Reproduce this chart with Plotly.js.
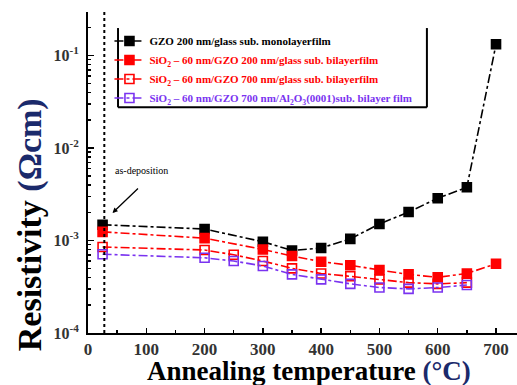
<!DOCTYPE html>
<html><head><meta charset="utf-8">
<script src="https://cdn.plot.ly/plotly-3.0.1.min.js"></script>
<style>html,body{margin:0;padding:0;background:#fff}#chart{width:517px;height:385px}</style>
</head><body><div id="chart"></div>
<script>
// Data (annealing temperature in °C, resistivity in Ω·cm)
const tempMono = [25, 200, 300, 350, 400, 450, 500, 550, 600, 650, 700];
const rhoMono = [1.48e-3, 1.33e-3, 9.7e-4, 7.8e-4, 8.3e-4, 1.04e-3, 1.51e-3, 2.03e-3, 2.86e-3, 3.76e-3, 0.132];

const tempBi200 = [25, 200, 300, 350, 400, 450, 500, 550, 600, 650, 700];
const rhoBi200 = [1.24e-3, 1.06e-3, 8.0e-4, 6.8e-4, 5.9e-4, 5.4e-4, 4.8e-4, 4.3e-4, 4.0e-4, 4.4e-4, 5.6e-4];

const tempBi700 = [25, 200, 250, 300, 350, 400, 450, 500, 550, 600, 650];
const rhoBi700 = [8.5e-4, 7.9e-4, 7.0e-4, 6.0e-4, 5.0e-4, 4.4e-4, 4.1e-4, 3.8e-4, 3.5e-4, 3.4e-4, 3.5e-4];

const tempBiAl = [25, 200, 250, 300, 350, 400, 450, 500, 550, 600, 650];
const rhoBiAl = [7.1e-4, 6.5e-4, 6.0e-4, 5.3e-4, 4.3e-4, 3.8e-4, 3.4e-4, 3.1e-4, 3.0e-4, 3.1e-4, 3.3e-4];

const seriesNames = [
  'GZO 200 nm/glass sub. monolayerfilm',
  'SiO<sub>2</sub> \u2013 60 nm/GZO 200 nm/glass sub. bilayerfilm',
  'SiO<sub>2</sub> \u2013 60 nm/GZO 700 nm/glass sub. bilayerfilm',
  'SiO<sub>2</sub> \u2013 60 nm/GZO 700 nm/Al<sub>2</sub>O<sub>3</sub>(0001)sub. bilayer film'
];
const seriesColors = ['#000000', '#ff0000', '#ff0000', '#7a33f0'];
const yTickVals = [1e-4, 1e-3, 1e-2, 1e-1];
const yTickText = ['10<sup>-4</sup>', '10<sup>-3</sup>', '10<sup>-2</sup>', '10<sup>-1</sup>'];
const xTickVals = [0, 100, 200, 300, 400, 500, 600, 700];
const asDepTemp = 28;

const minorY = [];
[1e-4, 1e-3, 1e-2, 1e-1].forEach(d => { for (let k = 2; k <= 9; k++) { if (d*k < 0.3) minorY.push(d*k); } });

const F = 'Liberation Serif, Times New Roman, serif';
function tr(x, y, i, symbol) {
  return {
    x: x, y: y, type: 'scatter', mode: 'lines+markers',
    name: '<span style="color:' + seriesColors[i] + '">' + seriesNames[i] + '</span>',
    line: {color: seriesColors[i], width: 1.6, dash: 'dashdot'},
    marker: {symbol: symbol, size: 9, color: seriesColors[i], line: {color: seriesColors[i], width: 1.6}}
  };
}
const data = [
  tr(tempMono, rhoMono, 0, 'square'),
  tr(tempBi200, rhoBi200, 1, 'square'),
  tr(tempBi700, rhoBi700, 2, 'square-open'),
  tr(tempBiAl, rhoBiAl, 3, 'square-open')
];

const layout = {
  width: 517, height: 385,
  margin: {l: 88, r: 0, t: 12, b: 52},
  paper_bgcolor: '#fff', plot_bgcolor: '#fff',
  font: {family: F, color: '#000'},
  showlegend: true,
  legend: {
    x: 0.05, y: 0.955, xanchor: 'left', yanchor: 'top',
    bgcolor: 'rgba(0,0,0,0)', borderwidth: 0,
    font: {family: F, size: 11, color: '#000', weight: 'bold'},
    tracegroupgap: 0, itemwidth: 30
  },
  xaxis: {
    range: [0, 736], showline: true, linecolor: '#000', linewidth: 2,
    showgrid: false, zeroline: false,
    tickmode: 'array', tickvals: xTickVals,
    ticks: 'inside', ticklen: 5, tickwidth: 1.5, tickcolor: '#000',
    minor: {tickmode: 'array', tickvals: [50,150,250,350,450,550,650], ticks: 'inside', ticklen: 3, tickwidth: 1.5, tickcolor: '#000'},
    tickfont: {family: F, size: 17, color: '#333', weight: 'bold'}
  },
  yaxis: {
    type: 'log', range: [-4, -0.53], showline: true, linecolor: '#000', linewidth: 2,
    showgrid: false, zeroline: false,
    tickmode: 'array', tickvals: yTickVals, ticktext: yTickText,
    ticks: 'inside', ticklen: 6, tickwidth: 1.5, tickcolor: '#000',
    minor: {tickmode: 'array', tickvals: minorY, ticks: 'inside', ticklen: 3, tickwidth: 1.5, tickcolor: '#000'},
    tickfont: {family: F, size: 16, color: '#333', weight: 'bold'},
    ticklabelstandoff: 4
  },
  shapes: [
    {type: 'line', xref: 'x', yref: 'paper', x0: asDepTemp, x1: asDepTemp, y0: 0, y1: 1,
     line: {color: '#000', width: 2, dash: 'dot'}},
    {type: 'line', xref: 'paper', yref: 'paper', x0: 0.07, x1: 0.07, y0: 0.703, y1: 0.95, line: {color: '#000', width: 2}},
    {type: 'line', xref: 'paper', yref: 'paper', x0: 0.79, x1: 0.79, y0: 0.703, y1: 0.95, line: {color: '#000', width: 2}},
    {type: 'line', xref: 'paper', yref: 'paper', x0: 0.07, x1: 0.79, y0: 0.703, y1: 0.703, line: {color: '#000', width: 2}}
  ],
  annotations: [
    {text: 'as-deposition', xref: 'x', yref: 'y', x: 91, y: -2.238,
     showarrow: false, font: {family: F, size: 10, color: '#000'}, xanchor: 'center', yanchor: 'middle'},
    {text: '', xref: 'x', yref: 'y', x: 42, y: -2.703, ax: 27, ay: -26,
     showarrow: true, arrowhead: 2, arrowsize: 0.8, arrowwidth: 1.3, arrowcolor: '#000'},
    {text: 'Annealing temperature <span style="color:#1b2a6b">(°C)</span>', xref: 'paper', yref: 'paper',
     x: 0.514, y: -0.064, xanchor: 'center', yanchor: 'top', showarrow: false,
     font: {family: F, size: 27, color: '#000', weight: 'bold'}},
    {text: 'Resistivity <span style="color:#1b2a6b">(Ωcm)</span>', xref: 'paper', yref: 'paper',
     x: -0.135, y: 0.336, xanchor: 'center', yanchor: 'middle', textangle: -90, showarrow: false,
     font: {family: F, size: 34, color: '#000', weight: 'bold'}}
  ]
};
Plotly.newPlot('chart', data, layout, {displayModeBar: false, staticPlot: true});
</script></body></html>
